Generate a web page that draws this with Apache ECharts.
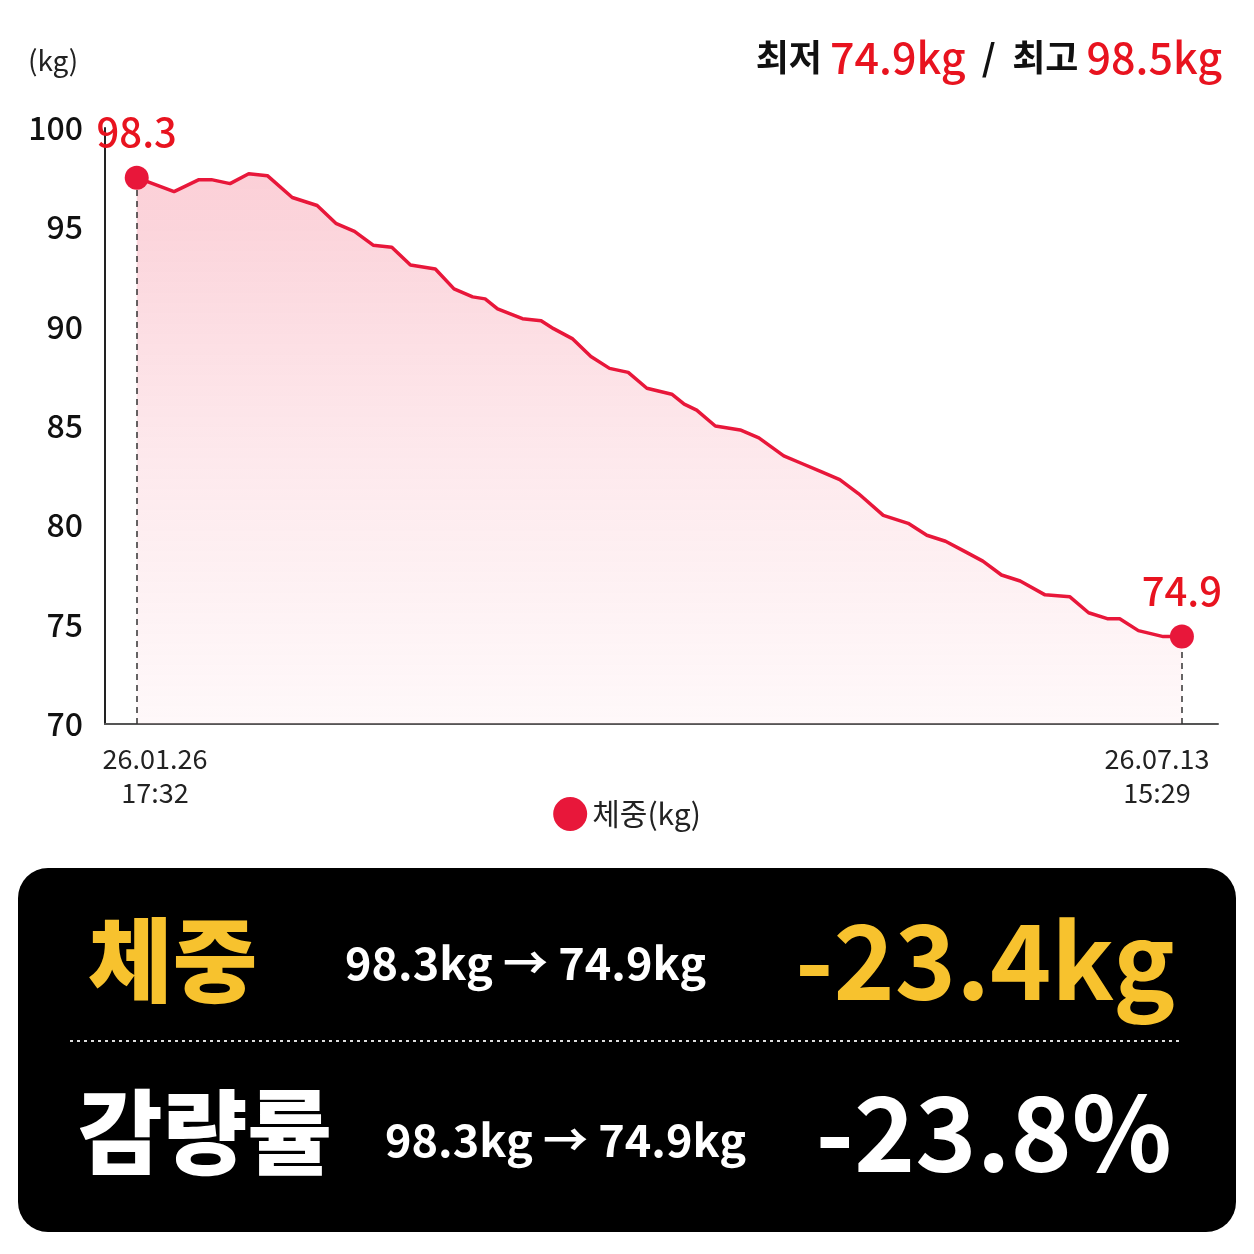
<!DOCTYPE html>
<html><head><meta charset="utf-8">
<script src="https://cdn.jsdelivr.net/npm/echarts@6/dist/echarts.min.js"></script>
<style>html,body{margin:0;padding:0;background:#fff}#c{width:1254px;height:1254px}</style>
</head><body><div id="c"></div>
<script>
const days = [0,6,10,12,15,18,21,25,29,32,35,38,41,44,48,51,54,56,58,62,65,67,70,73,76,79,82,86,88,90,93,97,100,104,107,110,113,116,120,124,127,130,133,136,139,142,146,150,153,156,158,161,165,168];
const weights = [97.5,96.8,97.4,97.4,97.2,97.7,97.6,96.5,96.1,95.2,94.8,94.1,94.0,93.1,92.9,91.9,91.5,91.4,90.9,90.4,90.3,89.9,89.4,88.5,87.9,87.7,86.9,86.6,86.1,85.8,85.0,84.8,84.4,83.5,83.1,82.7,82.3,81.6,80.5,80.1,79.5,79.2,78.7,78.2,77.5,77.2,76.5,76.4,75.6,75.3,75.3,74.7,74.4,74.4];
const yTicks = [70,75,80,85,90,95,100];
const endLabels = ['98.3','74.9'];
const dateLabels = ['26.01.26\n17:32','26.07.13\n15:29'];
const F = '"Noto Sans CJK KR","Noto Sans",sans-serif';
const red = '#e8173a';
const chart = echarts.init(document.getElementById('c'));
const pts = days.map((d,i)=>[d,weights[i]]);
const n = pts.length-1;
chart.setOption({
  animation:false,
  grid:{left:105,right:36,top:128,bottom:530},
  legend:{bottom:418,left:'center',itemWidth:34,itemHeight:34,icon:'circle',itemGap:14,
    textStyle:{fontFamily:F,fontSize:30,color:'#222'},data:['체중(kg)']},
  xAxis:{type:'value',min:-5.1,max:173.8,axisLine:{onZero:false,lineStyle:{color:'#555',width:2}},
    axisTick:{show:false},axisLabel:{show:false},splitLine:{show:false}},
  yAxis:{type:'value',min:70,max:100,interval:5,
    axisLine:{show:true,onZero:false,lineStyle:{color:'#222',width:2}},axisTick:{show:false},splitLine:{show:false},
    axisLabel:{fontFamily:F,fontSize:32,color:'#111',margin:22,fontWeight:500}},
  series:[
    {name:'체중(kg)',type:'line',data:pts,symbol:'none',itemStyle:{color:red},
     lineStyle:{color:red,width:3.5},
     areaStyle:{color:new echarts.graphic.LinearGradient(0,0,0,1,[{offset:0,color:'rgba(245,130,150,0.55)'},{offset:1,color:'rgba(252,215,222,0.25)'}])},
     markLine:{silent:true,symbol:'none',label:{show:false},
       lineStyle:{color:'#333',type:[6,5],width:1.5},
       data:[[{coord:[days[0],70]},{coord:[days[0],weights[0]]}],[{coord:[days[n],70]},{coord:[days[n],weights[n]]}]]}},
    {type:'scatter',data:[pts[0],pts[n]],symbolSize:24,itemStyle:{color:red,opacity:1},z:5,
     label:{show:true,position:'top',distance:14,fontFamily:F,fontSize:40,color:'#e8131f',fontWeight:500,
       formatter:p=>endLabels[p.dataIndex]}}
  ],
  graphic:[
    {type:'text',left:28,top:46,style:{text:'(kg)',fontFamily:F,fontSize:28,fill:'#222'}},
    {type:'text',right:32,top:36,style:{text:'{b|최저 }{r|74.9kg}{b|  /  최고 }{r|98.5kg}',
      rich:{b:{fontFamily:F,fontSize:36,fill:'#111',fontWeight:'bold'},r:{fontFamily:F,fontSize:43,fill:'#e8131f',fontWeight:500}}}},
    {type:'text',x:155,y:742,style:{text:dateLabels[0],fontFamily:F,fontSize:27,fill:'#222',align:'center',lineHeight:34}},
    {type:'text',x:1157,y:742,style:{text:dateLabels[1],fontFamily:F,fontSize:27,fill:'#222',align:'center',lineHeight:34}},
    {type:'rect',shape:{x:18,y:868,width:1218,height:364,r:30},style:{fill:'#000'}},
    {type:'line',shape:{x1:70,y1:1041,x2:1182,y2:1041},style:{stroke:'#ddd',lineWidth:2,lineDash:[3,4]}},
    {type:'text',x:88,y:960,style:{text:'체중',fontFamily:F,fontSize:92,fontWeight:900,fill:'#f7c22e',verticalAlign:'middle'}},
    {type:'text',x:345,y:963,style:{text:'98.3kg → 74.9kg',fontFamily:F,fontSize:45,fontWeight:'bold',fill:'#fff',verticalAlign:'middle'}},
    {type:'text',x:1175,y:960,style:{text:'-23.4kg',fontFamily:F,fontSize:104,fontWeight:'bold',fill:'#f7c22e',align:'right',verticalAlign:'middle'}},
    {type:'text',x:78,y:1132,style:{text:'감량률',fontFamily:F,fontSize:92,fontWeight:900,fill:'#fff',verticalAlign:'middle'}},
    {type:'text',x:385,y:1140,style:{text:'98.3kg → 74.9kg',fontFamily:F,fontSize:45,fontWeight:'bold',fill:'#fff',verticalAlign:'middle'}},
    {type:'text',x:1172,y:1132,style:{text:'-23.8%',fontFamily:F,fontSize:104,fontWeight:'bold',fill:'#fff',align:'right',verticalAlign:'middle'}}
  ]
});
</script></body></html>
